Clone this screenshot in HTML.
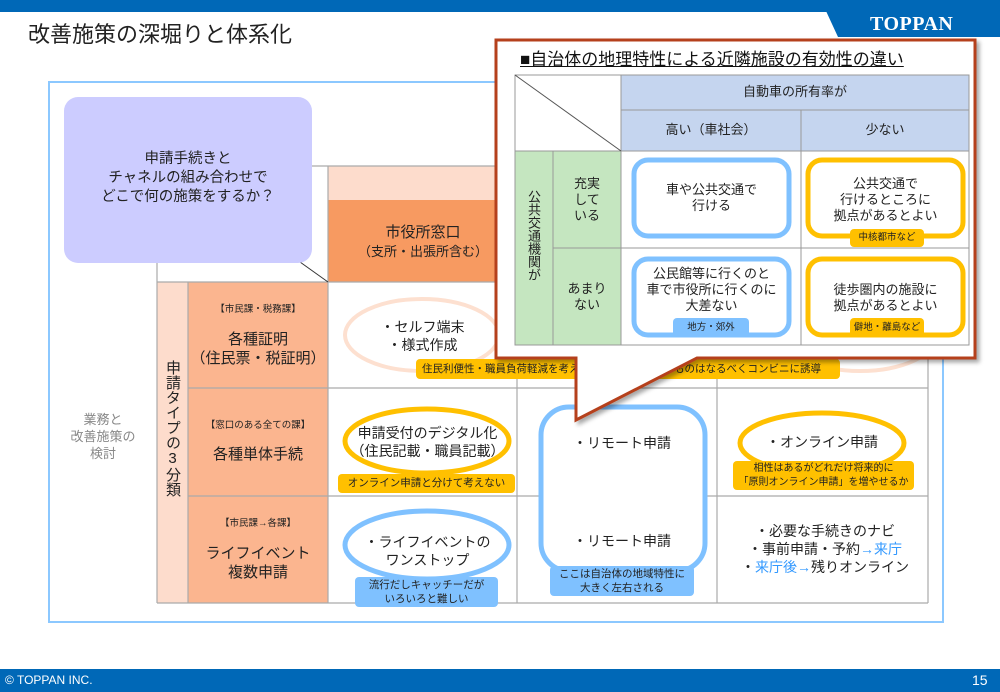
<!DOCTYPE html>
<html><head><meta charset="utf-8">
<style>
*{margin:0;padding:0;box-sizing:border-box}
body{width:1000px;height:692px;position:relative;overflow:hidden;background:#fff;font-family:"Liberation Sans","Noto Sans CJK JP",sans-serif;color:#222}
.a{position:absolute}
.c{position:absolute;text-align:center;line-height:1.25}
.tag{position:absolute;border-radius:4px;text-align:center;font-size:10.5px;line-height:14px;color:#222;white-space:nowrap}
.y{background:#ffc000}
.b{background:#7fc1ff}
.vt{writing-mode:vertical-rl;text-orientation:upright;position:absolute}
</style></head><body>
<!-- header -->
<div class="a" style="left:0;top:0;width:1000px;height:12px;background:#0068b7"></div>
<svg class="a" style="left:0;top:0" width="1000" height="40"><polygon points="826,11 1000,11 1000,37 838,37" fill="#0068b7"/></svg>
<div class="a" style="left:870px;top:13px;font-family:'Liberation Serif',serif;font-weight:bold;font-size:20px;color:#fff;letter-spacing:0.5px">TOPPAN</div>
<div class="a" style="left:28px;top:17px;font-size:22px;color:#222">改善施策の深堀りと体系化</div>

<!-- frame -->
<div class="a" style="left:48px;top:81px;width:896px;height:542px;border:2px solid #8cc8ff"></div>
<div class="c" style="left:58px;top:412px;width:90px;font-size:13px;color:#888;line-height:1.3">業務と<br>改善施策の<br>検討</div>

<!-- grid backgrounds -->
<div class="a" style="left:157px;top:282px;width:31px;height:321px;background:#fddccc"></div>
<div class="a" style="left:188px;top:282px;width:140px;height:321px;background:#fbb58f"></div>
<div class="a" style="left:328px;top:166px;width:600px;height:34px;background:#fddccc"></div>
<div class="a" style="left:328px;top:200px;width:190px;height:82px;background:#f79a61"></div>

<svg class="a" style="left:0;top:0" width="1000" height="692">
 <g stroke="#aaa" stroke-width="1.2" fill="none">
  <line x1="312" y1="166" x2="928" y2="166"/>
  <line x1="157" y1="262" x2="157" y2="603"/>
  <line x1="157" y1="282" x2="928" y2="282"/>
  <line x1="157" y1="603" x2="928" y2="603"/>
  <line x1="188" y1="282" x2="188" y2="603"/>
  <line x1="328" y1="166" x2="328" y2="603"/>
  <line x1="517" y1="166" x2="517" y2="603"/>
  <line x1="717" y1="166" x2="717" y2="603"/>
  <line x1="928" y1="166" x2="928" y2="603"/>
  <line x1="188" y1="388" x2="928" y2="388"/>
  <line x1="188" y1="496" x2="928" y2="496"/>
 </g>
 <line x1="300" y1="262" x2="328" y2="282" stroke="#333" stroke-width="1"/>
 <ellipse cx="422" cy="335" rx="77" ry="36" fill="none" stroke="#fde0d0" stroke-width="4"/>
 <ellipse cx="860" cy="335" rx="77" ry="36" fill="none" stroke="#fde0d0" stroke-width="4"/>
 <ellipse cx="427" cy="441" rx="82" ry="32" fill="#fff" stroke="#ffc000" stroke-width="5"/>
 <ellipse cx="822" cy="443" rx="82" ry="30" fill="#fff" stroke="#ffc000" stroke-width="5"/>
 <ellipse cx="427" cy="545" rx="82" ry="34" fill="#fff" stroke="#7fc1ff" stroke-width="5"/>
 <rect x="541" y="407" width="164" height="164" rx="28" fill="#fff" stroke="#7fc1ff" stroke-width="5"/>
</svg>
<div class="a" style="left:64px;top:97px;width:248px;height:166px;background:#ccccff;border-radius:14px"></div>
<div class="c" style="left:64px;top:150px;width:248px;font-size:14.5px;line-height:19px">申請手続きと<br>チャネルの組み合わせで<br>どこで何の施策をするか？</div>
<div class="c" style="left:328px;top:224px;width:190px;font-size:15px">市役所窓口<br><span style="font-size:13px">（支所・出張所含む）</span></div>

<div class="vt" style="left:163px;top:360px;font-size:15px;line-height:18px">申請タイプの3分類</div>

<div class="c" style="left:188px;top:304px;width:140px;font-size:9.5px">【市民課・税務課】</div>
<div class="c" style="left:188px;top:330px;width:140px;font-size:15px;line-height:19px">各種証明<br>（住民票・税証明）</div>
<div class="c" style="left:188px;top:420px;width:140px;font-size:9.5px">【窓口のある全ての課】</div>
<div class="c" style="left:188px;top:446px;width:140px;font-size:15px">各種単体手続</div>
<div class="c" style="left:188px;top:518px;width:140px;font-size:9.5px">【市民課→各課】</div>
<div class="c" style="left:188px;top:544px;width:140px;font-size:15px;line-height:19px">ライフイベント<br>複数申請</div>

<div class="c" style="left:345px;top:318px;width:155px;font-size:14px;line-height:18px">・セルフ端末<br>・様式作成</div>
<div class="tag y" style="left:416px;top:359px;width:424px;height:20px;line-height:20px;text-align:left;padding-left:6px">住民利便性・職員負荷軽減を考え、コンビニで出来るものはなるべくコンビニに誘導</div>
<div class="c" style="left:340px;top:424px;width:175px;font-size:14px;line-height:18px">申請受付のデジタル化<br>（住民記載・職員記載）</div>
<div class="tag y" style="left:338px;top:474px;width:177px;height:19px;line-height:19px">オンライン申請と分けて考えない</div>
<div class="c" style="left:540px;top:435px;width:164px;font-size:14px">・リモート申請</div>
<div class="c" style="left:540px;top:533px;width:164px;font-size:14px">・リモート申請</div>
<div class="tag b" style="left:550px;top:566px;width:144px;height:30px;padding-top:1px">ここは自治体の地域特性に<br>大きく左右される</div>
<div class="c" style="left:740px;top:434px;width:164px;font-size:14px">・オンライン申請</div>
<div class="tag y" style="left:733px;top:461px;width:181px;height:29px;padding-top:1px;font-size:10px">相性はあるがどれだけ将来的に<br>「原則オンライン申請」を増やせるか</div>
<div class="c" style="left:355px;top:533px;width:145px;font-size:14px;line-height:18px">・ライフイベントの<br>ワンストップ</div>
<div class="tag b" style="left:355px;top:577px;width:143px;height:30px;padding-top:1px">流行だしキャッチーだが<br>いろいろと難しい</div>
<div class="c" style="left:720px;top:522px;width:210px;font-size:14px;line-height:18px">・必要な手続きのナビ<br>・事前申請・予約<span style="color:#3399ff">→来庁</span><br>・<span style="color:#3399ff">来庁後→</span>残りオンライン</div>

<!-- callout -->
<svg class="a" style="left:0;top:0" width="1000" height="692">
 <defs><filter id="sh" x="-5%" y="-5%" width="115%" height="115%"><feDropShadow dx="3" dy="3" stdDeviation="2" flood-color="#000" flood-opacity="0.35"/></filter></defs>
 <path d="M496,40 L975,40 L975,358 L697,358 L576,420 L576,358 L496,358 Z" fill="#fff" stroke="#b5401a" stroke-width="3" filter="url(#sh)"/>
</svg>
<div class="a" style="left:520px;top:45px;font-size:17px;text-decoration:underline;color:#111">■自治体の地理特性による近隣施設の有効性の違い</div>
<div class="a" style="left:515px;top:75px;width:106px;height:76px;background:#fff"></div>
<div class="a" style="left:621px;top:75px;width:348px;height:76px;background:#c5d5ef"></div>
<div class="a" style="left:515px;top:151px;width:106px;height:194px;background:#c5e6c0"></div>
<svg class="a" style="left:0;top:0" width="1000" height="692">
 <g stroke="#999" stroke-width="1" fill="none">
  <rect x="515" y="75" width="454" height="270"/>
  <line x1="621" y1="75" x2="621" y2="345"/>
  <line x1="621" y1="110" x2="969" y2="110"/>
  <line x1="801" y1="110" x2="801" y2="345"/>
  <line x1="515" y1="151" x2="969" y2="151"/>
  <line x1="553" y1="151" x2="553" y2="345"/>
  <line x1="553" y1="248" x2="969" y2="248"/>
 </g>
 <line x1="515" y1="75" x2="621" y2="151" stroke="#555" stroke-width="1"/>
 <rect x="634" y="160" width="155" height="76" rx="14" fill="#fff" stroke="#7fc1ff" stroke-width="5"/>
 <rect x="808" y="160" width="155" height="76" rx="14" fill="#fff" stroke="#ffc000" stroke-width="5"/>
 <rect x="634" y="259" width="155" height="76" rx="14" fill="#fff" stroke="#7fc1ff" stroke-width="5"/>
 <rect x="808" y="259" width="155" height="76" rx="14" fill="#fff" stroke="#ffc000" stroke-width="5"/>
</svg>
<div class="c" style="left:621px;top:84px;width:348px;font-size:13px">自動車の所有率が</div>
<div class="c" style="left:621px;top:122px;width:180px;font-size:13px">高い（車社会）</div>
<div class="c" style="left:801px;top:122px;width:168px;font-size:13px">少ない</div>
<div class="vt" style="left:525px;top:190px;font-size:13px;line-height:16px">公共交通機関が</div>
<div class="c" style="left:553px;top:176px;width:68px;font-size:13px;line-height:16px">充実<br>して<br>いる</div>
<div class="c" style="left:553px;top:281px;width:68px;font-size:13px;line-height:16px">あまり<br>ない</div>
<div class="c" style="left:634px;top:182px;width:155px;font-size:13px;line-height:16px">車や公共交通で<br>行ける</div>
<div class="c" style="left:808px;top:176px;width:155px;font-size:13px;line-height:16px">公共交通で<br>行けるところに<br>拠点があるとよい</div>
<div class="tag y" style="left:850px;top:229px;width:74px;height:18px;line-height:18px;font-size:9.5px">中核都市など</div>
<div class="c" style="left:634px;top:266px;width:155px;font-size:13px;line-height:16px">公民館等に行くのと<br>車で市役所に行くのに<br>大差ない</div>
<div class="tag b" style="left:673px;top:318px;width:76px;height:19px;line-height:19px;font-size:9.5px">地方・郊外</div>
<div class="c" style="left:808px;top:282px;width:155px;font-size:13px;line-height:16px">徒歩圏内の施設に<br>拠点があるとよい</div>
<div class="tag y" style="left:850px;top:318px;width:74px;height:19px;line-height:19px;font-size:9.5px">僻地・離島など</div>

<!-- footer -->
<div class="a" style="left:0;top:669px;width:1000px;height:23px;background:#0068b7"></div>
<div class="a" style="left:5px;top:673px;font-size:12px;color:#fff">© TOPPAN INC.</div>
<div class="a" style="left:972px;top:672px;font-size:14px;color:#fff">15</div>
</body></html>
